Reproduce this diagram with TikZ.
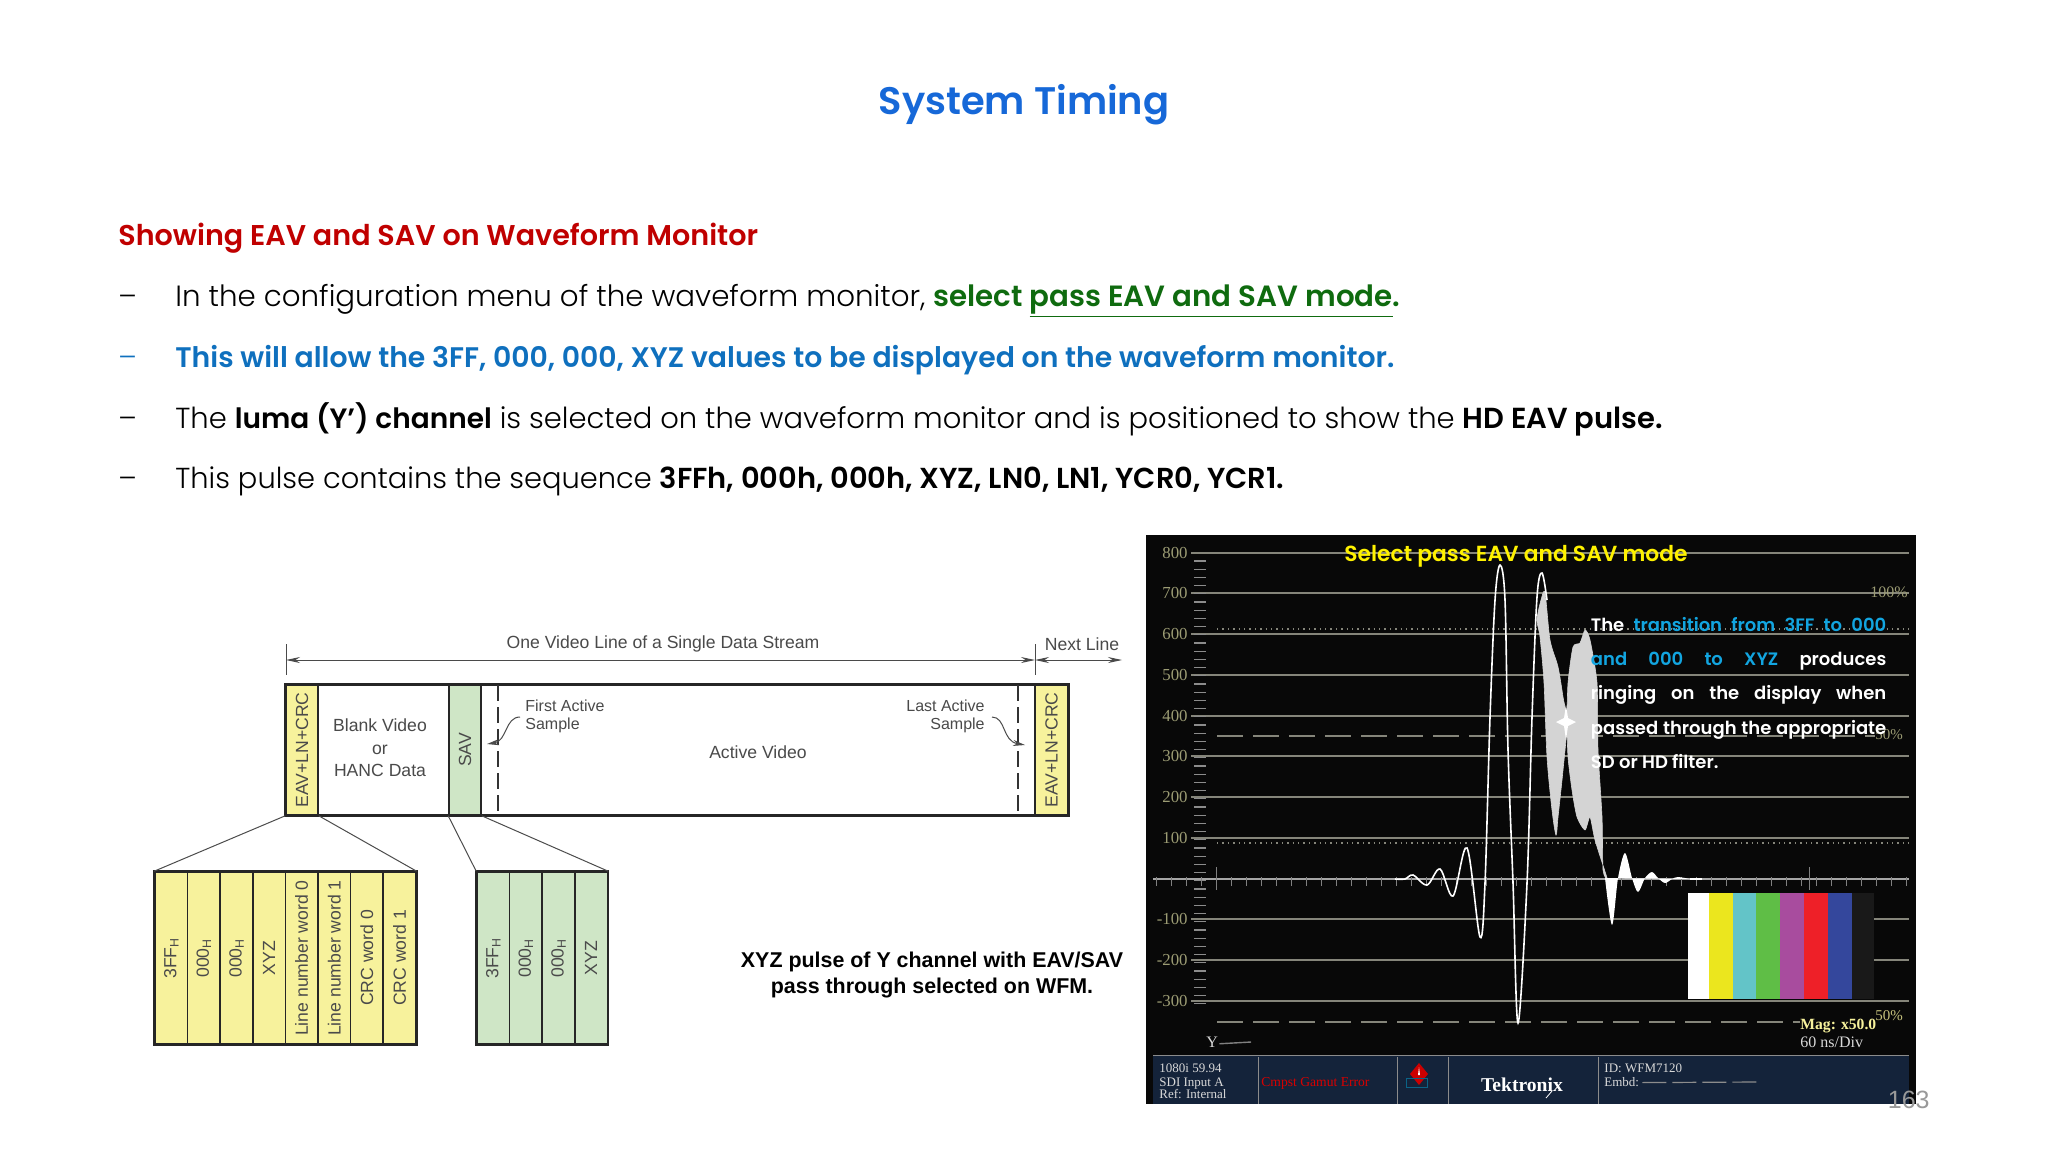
\documentclass[tikz,border=0pt]{standalone}
\usepackage{fontspec}
\setmainfont{Poppins Light}[BoldFont={Poppins SemiBold}]
\newfontfamily\armfont{Liberation Sans}
\newfontfamily\wfmfont{Liberation Serif}
\newfontfamily\pagefont{Liberation Sans}
\usetikzlibrary{arrows.meta,positioning}
\definecolor{titleblue}{HTML}{1668D8}
\definecolor{headred}{HTML}{C00000}
\definecolor{selgreen}{HTML}{0F6B0F}
\definecolor{lineblue}{HTML}{0F70BE}
\definecolor{inkgrey}{HTML}{4A4A4A}
\definecolor{cellyel}{HTML}{F7F29C}
\definecolor{cellgrn}{HTML}{CFE6C6}
\definecolor{wfmline}{HTML}{85857A}
\definecolor{wfmtext}{HTML}{9C9C74}
\definecolor{wfmbar}{HTML}{14233A}
\definecolor{skyblue}{HTML}{12A5E0}
\tikzset{
  slide/.style={anchor=base west,inner sep=0pt,font=\fontsize{14.5}{16}\selectfont},
  dashmark/.style={anchor=base west,inner sep=0pt,font=\fontsize{14.2}{16}\selectfont},
  lbltext/.style={inner sep=0pt,text=inkgrey,align=center,font=\armfont\fontsize{8.8}{9.8}\selectfont},
  smalltxt/.style={lbltext,font=\armfont\fontsize{8}{9}\selectfont},
  cell/.style={draw=black!85,line width=.8pt,minimum height=#1,inner sep=0pt,text=inkgrey,font=\armfont\fontsize{8.8}{10}\selectfont},
  eavcell/.style={cell=86pt,fill=cellyel,minimum width=16.3pt},
  savcell/.style={cell=86pt,fill=cellgrn,minimum width=16.3pt},
  fan/.style={draw=black!70,line width=.5pt},
  span/.style={draw=inkgrey,line width=.5pt,{Stealth[length=7pt,width=3pt]}-{Stealth[length=7pt,width=3pt]}},
  pointer/.style={draw=inkgrey,line width=.5pt,-{Stealth[length=6pt,width=3pt]}},
  grat/.style={draw=wfmline,line width=.6pt},
  wave/.style={draw=white,line width=.8pt},
  blob/.style={fill=black!17,draw=black!17,line width=.3pt},
  wfmscale/.style={anchor=east,inner sep=0pt,text=wfmtext,font=\wfmfont\fontsize{8.4}{9}\selectfont},
  barfont/.style={anchor=base west,inner sep=0pt,text=white!85!black,font=\wfmfont\fontsize{6.5}{8}\selectfont},
  note/.style={anchor=base west,inner sep=0pt,text=white,font=\fontsize{9}{11}\selectfont\bfseries},
}
\newcommand{\noteline}[1]{\makebox[147.7pt][s]{#1}}
\begin{document}
\begin{tikzpicture}[x=.5pt,y=-.5pt]
\useasboundingbox (0,0) rectangle (2048,1152);
\fill[white] (0,0) rectangle (2048,1152);

\node[anchor=base,inner sep=0pt,text=titleblue,font=\fontsize{19.2}{24}\selectfont\bfseries] (title) at (1024,114) {System Timing};
\node[slide,text=headred,font=\fontsize{14.3}{16}\selectfont\bfseries] (head) at (118,245) {Showing EAV and SAV on Waveform Monitor};
\node[dashmark] (d1) at (118,306) {--};
\node[dashmark,text=lineblue] (d2) at (118,367) {--};
\node[dashmark] (d3) at (118,428) {--};
\node[dashmark] (d4) at (118,488) {--};
\node[slide,font=\fontsize{14.65}{16}\selectfont] (l1) at (175,306) {In the configuration menu of the waveform monitor, \textcolor{selgreen}{\bfseries select \underline{pass EAV and SAV mode}.}};
\node[slide,text=lineblue,font=\fontsize{14.15}{16}\selectfont] (l2) at (175,367) {\bfseries This will allow the 3FF, 000, 000, XYZ values to be displayed on the waveform monitor.};
\node[slide] (l3) at (175,428) {The {\fontsize{14}{16}\selectfont\textbf{luma (Y’) channel}} is selected on the waveform monitor and is positioned to show the \textbf{HD EAV pulse.}};
\node[slide,font=\fontsize{14.45}{16}\selectfont] (l4) at (175,488) {This pulse contains the sequence \textbf{3FFh, 000h, 000h, XYZ, LN0, LN1, YCR0, YCR1.}};

% line diagram
\node[cell=65pt,minimum width=16pt,fill=cellyel] (eavL) at (302,750) {\rotatebox{90}{EAV+LN+CRC}};
\node[cell=65pt,minimum width=65.5pt] (blank) at (383.5,750) {};
\node[cell=65pt,minimum width=16pt,fill=cellgrn] (sav) at (465,750) {\rotatebox{90}{SAV}};
\node[cell=65pt,minimum width=277pt] (active) at (758,750) {};
\node[cell=65pt,minimum width=16.5pt,fill=cellyel] (eavR) at (1051.5,750) {\rotatebox{90}{EAV+LN+CRC}};
\draw[line width=1.1pt,draw=black!85] (eavL.north west) rectangle (eavR.south east);

\node[lbltext] (blanktxt) at (380,748) {Blank Video\\[1.5pt]or\\[1.5pt]HANC Data};
\node[lbltext] (acttxt) at (758,752) {Active Video};
\node[smalltxt,anchor=west,align=left] (firsttxt) at (525,716) {First Active\\Sample};
\node[smalltxt,anchor=east,align=right] (lasttxt) at (985,716) {Last Active\\Sample};
\draw[dashed,draw=black!80,line width=.7pt,dash pattern=on 8pt off 3pt] (498,685) -- (498,815);
\draw[dashed,draw=black!80,line width=.7pt,dash pattern=on 8pt off 3pt] (1018,685) -- (1018,815);
\draw[pointer] (firsttxt.west) ++(-5,1) .. controls (505,717) and (507,741) .. (487,744);
\draw[pointer] (lasttxt.east) ++(7,1) .. controls (1006,717) and (1002,741) .. (1025,745);

\coordinate (lineL) at (286,660);
\coordinate (lineR) at (1035,660);
\coordinate (nextR) at (1122,660);
\draw[span] (lineL) -- (lineR);
\draw[span] (lineR) -- (nextR);
\draw[draw=inkgrey,line width=.5pt] (lineL) ++(0,-16) -- ++(0,31);
\draw[draw=inkgrey,line width=.5pt] (lineR) ++(0,-16) -- ++(0,31);
\node[lbltext] (linetxt) at (663,644) {One Video Line of a Single Data Stream};
\node[lbltext] (nexttxt) at (1082,644) {Next Line};

\foreach \i/\txt in {0/3FF\textsubscript{H},1/000\textsubscript{H},2/000\textsubscript{H},3/XYZ,4/Line number word 0,5/Line number word 1,6/CRC word 0,7/CRC word 1}
  \node[eavcell] (eav\i) at ({171.3+32.6*\i},958) {\rotatebox{90}{\txt}};
\draw[line width=1.1pt,draw=black!85] (eav0.north west) rectangle (eav7.south east);
\foreach \i/\txt in {0/3FF\textsubscript{H},1/000\textsubscript{H},2/000\textsubscript{H},3/XYZ}
  \node[savcell] (sv\i) at ({493.3+32.6*\i},958) {\rotatebox{90}{\txt}};
\draw[line width=1.1pt,draw=black!85] (sv0.north west) rectangle (sv3.south east);
\draw[fan] (eavL.south west) -- (eav0.north west);
\draw[fan] (eavL.south east) -- (eav7.north east);
\draw[fan] (sav.south west) -- (sv0.north west);
\draw[fan] (sav.south east) -- (sv3.north east);

\node[inner sep=0pt,align=center,font=\armfont\bfseries\fontsize{10.7}{12.6}\selectfont] (caption) at (932,975) {XYZ pulse of Y channel with EAV/SAV\\pass through selected on WFM.};

% waveform monitor
\fill[black!97] (1146,535) rectangle (1916,1104);
\foreach \y/\v in {553/800,593/700,634/600,675/500,716/400,756/300,797/200,838/100,919/-100,960/-200,1001/-300} {
  \draw[grat] (1191,\y) -- (1909,\y);
  \node[wfmscale] at (1188,\y) {\v};
}
\foreach \y in {561,569.2,...,1010}
  \draw[draw=black!45,line width=.6pt] (1194,\y) -- (1206,\y);
\draw[draw=wfmline,line width=.7pt,dotted] (1217,629) -- (1909,629);
\draw[draw=wfmline,line width=.7pt,dotted] (1217,843) -- (1909,843);
\draw[draw=wfmline,line width=.6pt,dash pattern=on 13pt off 5pt] (1217,736) -- (1875,736);
\draw[draw=wfmline,line width=.6pt,dash pattern=on 13pt off 5pt] (1217,1022) -- (1800,1022);
\draw[draw=black!35,line width=.7pt] (1153,879) -- (1909,879);
\foreach \x in {1156,1171,...,1909}
  \draw[draw=black!50,line width=.4pt] (\x,877) -- (\x,886);
\foreach \x in {1216.5,1809}
  \draw[draw=black!50,line width=.5pt] (\x,867) -- (\x,890);
\node[wfmscale,anchor=west,font=\wfmfont\fontsize{8}{9}\selectfont] (pc100) at (1870,592) {100\%};
\node[wfmscale,anchor=west,font=\wfmfont\fontsize{7.5}{9}\selectfont] (pc50a) at (1875,735) {50\%};

\fill[blob] plot[smooth cycle,tension=.5] coordinates {(1537,620) (1541,600) (1545,593) (1550,640) (1558,667) (1563,697) (1567,723) (1563,770) (1558,817) (1556,835) (1552,810) (1547,757) (1544,683) (1540,637)};
\fill[blob] plot[smooth cycle,tension=.4] coordinates {(1567,723) (1568,683) (1573,647) (1580,643) (1585,630) (1590,640) (1597,683) (1598,750) (1602,817) (1603,870) (1607,878) (1595,840) (1590,817) (1585,830) (1577,817) (1572,790) (1568,757)};
\fill[white] (1566,705) -- (1568,718) -- (1576,722) -- (1568,726) -- (1566,740) -- (1564,726) -- (1556,722) -- (1564,718) -- cycle;
\draw[wave] plot[smooth,tension=.55] coordinates {(1395,879) (1405,879) (1413,875) (1427,885) (1440,869) (1453,896) (1467,848) (1480,937) (1485,883) (1490,717) (1495,600) (1500,565) (1505,600) (1508,750) (1513,883) (1518,1023) (1527,883) (1532,717) (1537,597) (1542,573) (1547,600)};
\fill[white] plot[smooth,tension=.5] coordinates {(1605,878) (1612,925) (1618,878) (1625,853) (1632,878) (1638,892) (1645,878) (1652,872) (1658,878) (1665,883) (1672,879) (1678,877) (1690,879)} -- cycle;
\draw[wave] (1690,879) -- (1702,879);

\foreach \x/\w/\c in {1687.5/21.5/white,1709/24/{rgb,255:red,235;green,230;blue,30},1733/23/{rgb,255:red,99;green,196;blue,200},1756/24/{rgb,255:red,95;green,190;blue,70},1780/24/{rgb,255:red,168;green,76;blue,158},1804/24/{rgb,255:red,238;green,32;blue,40},1828/24/{rgb,255:red,52;green,71;blue,156},1852/22/black!90}
  \fill[fill=\c] (\x,893) rectangle ++(\w,106);

\node[anchor=base west,inner sep=0pt,text=yellow,font=\fontsize{10.9}{13}\selectfont\bfseries] (seltxt) at (1344,561) {Select pass EAV and SAV mode};
\node[note] (n1) at (1590.5,631) {\noteline{The \textcolor{skyblue}{transition from 3FF to 000}}};
\node[note] (n2) at (1590.5,665) {\noteline{\textcolor{skyblue}{and 000 to XYZ} produces}};
\node[note] (n3) at (1590.5,699.5) {\noteline{ringing on the display when}};
\node[note] (n4) at (1590.5,734) {\noteline{passed through the appropriate}};
\node[note] (n5) at (1590.5,768.5) {SD or HD filter.};

\node[anchor=base west,inner sep=0pt,text=cellyel,font=\wfmfont\bfseries\fontsize{7.8}{9}\selectfont] (magtxt) at (1800,1029) {Mag: x50.0};
\node[wfmscale,anchor=west,text=cellyel!80!black,font=\wfmfont\fontsize{7.5}{9}\selectfont] (pc50b) at (1875,1016) {50\%};
\node[anchor=base west,inner sep=0pt,text=white!85!black,font=\wfmfont\fontsize{8}{9}\selectfont] (divtxt) at (1800,1047) {60 ns/Div};
\node[anchor=base west,inner sep=0pt,text=white!85!black,font=\wfmfont\fontsize{8}{9}\selectfont] (ytxt) at (1206,1047) {Y};
\draw[draw=black!50,line width=.7pt] (ytxt.east) ++(1,2) -- (1251,1042);

\fill[wfmbar] (1153,1055) rectangle (1909,1104);
\draw[draw=black!45,line width=.5pt] (1153,1055) -- (1909,1055);
\foreach \x in {1258,1397,1448,1598}
  \draw[draw=black!45,line width=.5pt] (\x,1057) -- (\x,1104);
\node[barfont] (bar1) at (1159,1072) {1080i 59.94};
\node[barfont] (bar2) at (1159,1086) {SDI Input A};
\node[barfont] (bar3) at (1159,1098) {Ref: Internal};
\node[barfont,text=red!85!black,font=\wfmfont\fontsize{6.8}{8}\selectfont] (bar4) at (1261,1086) {Cmpst Gamut Error};
\node[barfont] (bar5) at (1604,1072) {ID: WFM7120};
\node[barfont] (bar6) at (1604,1086) {Embd:};
\draw[draw=black!45,line width=.6pt,dash pattern=on 12pt off 3pt] (bar6.east) ++(3,1) -- (1757,1082);
\fill[red!80!black] (1419,1063) -- (1428,1074) -- (1419,1085) -- (1410,1074) -- cycle;
\fill[white] (1419,1067) -- (1420,1075) -- (1418,1075) -- cycle;
\draw[draw=skyblue!60!black,line width=.5pt] (1406,1078) rectangle (1427,1087);
\node[anchor=base,inner sep=0pt,text=white,font=\wfmfont\bfseries\fontsize{9.8}{10}\selectfont] (tek) at (1522,1091) {Tektronix};
\draw[draw=white,line width=.4pt] (1546,1098) -- (1552,1091);

\node[anchor=base east,inner sep=0pt,text=black!40,font=\pagefont\fontsize{12.5}{14}\selectfont] (pagenum) at (1930,1108) {163};
\end{tikzpicture}
\end{document}
